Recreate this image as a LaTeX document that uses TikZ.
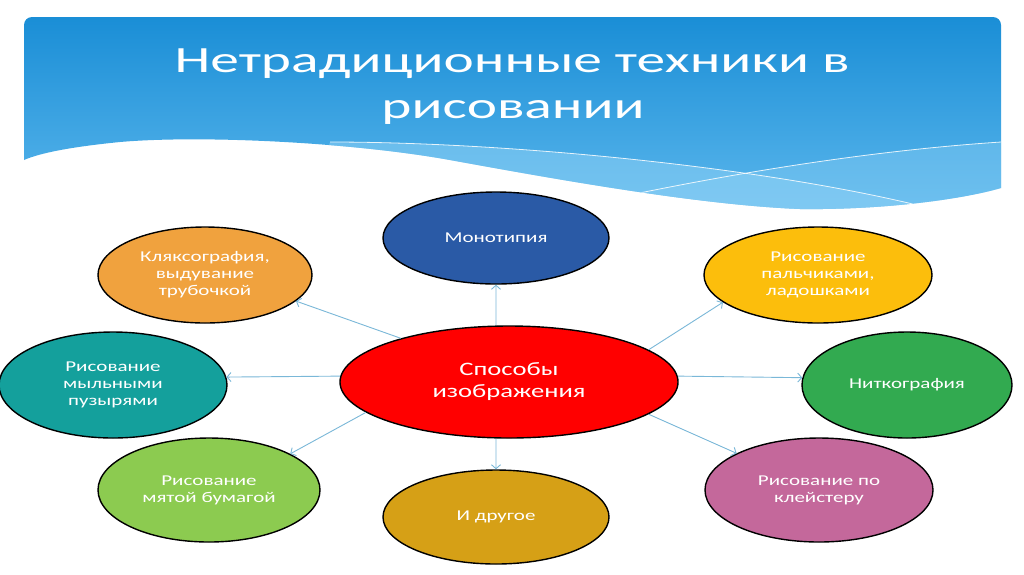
\documentclass[tikz,border=0pt]{standalone}
\usepackage{fontspec}
\setmainfont[FakeStretch=1.4]{Carlito}
\newfontfamily\titlefont[FakeStretch=1.55]{Carlito}
\usetikzlibrary{arrows.meta,shapes.geometric}
\definecolor{hdrtop}{RGB}{26,142,214}
\definecolor{hdrbot}{RGB}{90,182,236}
\definecolor{bandA}{RGB}{140,208,245}
\definecolor{arrowblue}{RGB}{122,184,216}
\definecolor{cMono}{RGB}{42,90,166}
\definecolor{cKlek}{RGB}{240,162,62}
\definecolor{cSoap}{RGB}{20,160,156}
\definecolor{cPaper}{RGB}{140,203,80}
\definecolor{cOther}{RGB}{214,160,22}
\definecolor{cKleis}{RGB}{196,104,155}
\definecolor{cNitko}{RGB}{50,170,80}
\definecolor{cFing}{RGB}{252,190,12}
\definecolor{cCenter}{RGB}{255,0,0}
\tikzset{
  oval/.style={ellipse,draw=black,line width=1.4pt,inner sep=0pt,align=center,
    text=white,font=\fontsize{15}{17}\selectfont},
  arr/.style={draw=arrowblue,line width=0.9pt,-{Straight Barb[length=4pt,width=9pt]}},
  wline/.style={draw=white,line width=0.8pt,opacity=0.85}
}
\begin{document}
\begin{tikzpicture}[x=1pt,y=-1pt]
\useasboundingbox (0,0) rectangle (1024,574);
\fill[white] (0,0) rectangle (1024,574);
% header
\def\hdrpath{(24,160) [rounded corners=8pt] -- (24,17) -- (1001,17) [sharp corners] -- (1001,188)
  .. controls (960,200) and (880,210) .. (800,209)
  .. controls (700,205) and (560,180) .. (450,160)
  .. controls (350,142) and (200,135) .. (120,142)
  .. controls (70,147) and (40,153) .. (24,160) -- cycle}
\shade[top color=hdrtop,bottom color=hdrbot] \hdrpath;
\begin{scope}
\clip \hdrpath;
\fill[bandA,opacity=0.55] (330,142) .. controls (500,142) and (750,165) .. (917,205) -- (917,260) -- (300,260) -- cycle;
\fill[bandA,opacity=0.4] (620,197) .. controls (750,170) and (880,150) .. (1001,142) -- (1010,260) -- (600,260) -- cycle;
\draw[wline] (330,142) .. controls (500,142) and (750,165) .. (917,205);
\draw[wline] (620,197) .. controls (750,170) and (880,150) .. (1001,142);
\end{scope}
\node[text=white,font=\titlefont\fontsize{37}{44}\selectfont,anchor=base] (t1) at (512,72) {Нетрадиционные техники в};
\node[text=white,font=\titlefont\fontsize{37}{44}\selectfont,anchor=base] (t2) at (513,118) {рисовании};
% nodes
\node[oval,fill=cCenter,minimum width=338pt,minimum height=112pt,font=\fontsize{19}{22}\selectfont] (c) at (509,382) {Способы\\изображения};
\node[oval,fill=cMono,minimum width=226pt,minimum height=92pt] (m) at (496,238) {Монотипия};
\node[oval,fill=cKlek,minimum width=214pt,minimum height=96pt] (k) at (205,275) {Кляксография,\\выдувание\\трубочкой};
\node[oval,fill=cSoap,minimum width=228pt,minimum height=106pt] (s) at (113,385) {Рисование\\мыльными\\пузырями};
\node[oval,fill=cPaper,minimum width=222pt,minimum height=104pt] (b) at (209,490) {Рисование\\мятой бумагой};
\node[oval,fill=cOther,minimum width=226pt,minimum height=94pt] (o) at (496,517) {И другое};
\node[oval,fill=cKleis,minimum width=228pt,minimum height=104pt] (p) at (819,490) {Рисование по\\клейстеру};
\node[oval,fill=cNitko,minimum width=210pt,minimum height=106pt] (n) at (907,385) {Ниткография};
\node[oval,fill=cFing,minimum width=228pt,minimum height=96pt] (f) at (818,275) {Рисование\\пальчиками,\\ладошками};
% arrows
\draw[arr] (c.103) -- (m.south);
\draw[arr] (c.257) -- (o.north);
\draw[arr] (c.178) -- (s.4);
\draw[arr] (c.2) -- (n.176);
\draw[arr] (c.158) -- (k.344);
\draw[arr] (c.13) -- (f.196);
\draw[arr] (c.192) -- (b.24.5);
\draw[arr] (c.347.6) -- (p.156);
\end{tikzpicture}
\end{document}
